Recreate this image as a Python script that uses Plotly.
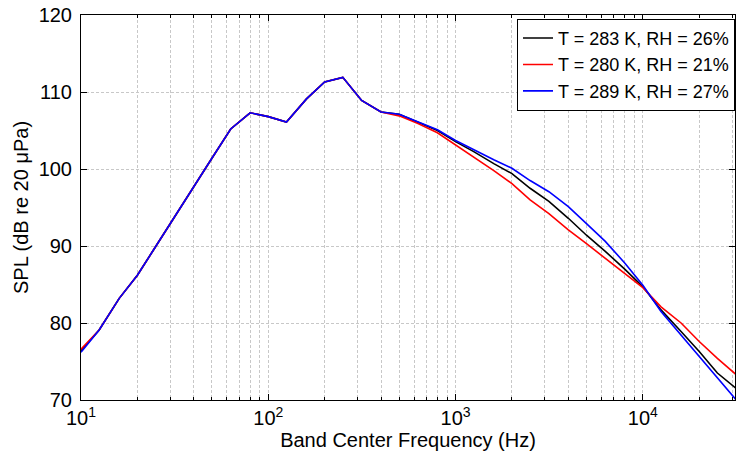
import plotly.graph_objects as go

freqs = [10, 12.5, 16, 20, 25, 31.5, 40, 50, 63, 80, 100, 125, 160, 200, 250, 315, 400, 500,
         630, 800, 1000, 1250, 1600, 2000, 2500, 3150, 4000, 5000, 6300, 8000, 10000,
         12500, 16000, 20000, 25000, 31500]

low_common = [79.1, 83.2, 86.2, 89.9, 93.8, 97.7, 101.4, 105.2, 107.3, 106.8, 106.1,
              109.1, 111.3, 111.9, 108.9, 107.4]

spl_283 = [76.4] + low_common + [107.1,
           106.1, 105.0, 103.55, 102.25, 100.7, 99.4, 97.5, 95.8, 93.6, 91.4, 89.3, 87.0, 84.7,
           81.7, 78.9, 76.3, 73.5, 71.5]
spl_280 = [76.6] + low_common + [106.9,
           105.9, 104.7, 103.1, 101.6, 99.8, 98.1, 96.0, 94.2, 92.1, 90.3, 88.4, 86.5, 84.6,
           82.1, 80.0, 77.6, 75.4, 73.3]
spl_289 = [76.2] + low_common + [107.1,
           106.15, 105.1, 103.7, 102.5, 101.2, 100.1, 98.5, 97.05, 95.1, 92.9, 90.6, 87.8, 84.9,
           81.5, 78.4, 75.6, 72.8, 70.0]

names = ["T = 283 K, RH = 26%", "T = 280 K, RH = 21%", "T = 289 K, RH = 27%"]
colors = ["#000000", "#ff0000", "#0000ff"]

major_x = [10, 100, 1000, 10000]
major_x_text = ["10<sup>1</sup>", "10<sup>2</sup>", "10<sup>3</sup>", "10<sup>4</sup>"]
minor_x = [m * d for d in [10, 100, 1000, 10000] for m in range(2, 10)]
y_ticks = [70, 80, 90, 100, 110, 120]

font_fam = "Liberation Sans, Arial, sans-serif"
grid_col = "#c8c8c8"
grid_dash = "3px,2px"

fig = go.Figure()
for ys, nm, c in zip([spl_283, spl_280, spl_289], names, colors):
    fig.add_trace(go.Scatter(x=freqs, y=ys, mode="lines", name=nm,
                             line=dict(color=c, width=1.6)))

fig.update_layout(
    width=736, height=454,
    margin=dict(l=81, r=1, t=15, b=54),
    paper_bgcolor="white", plot_bgcolor="white",
    font=dict(family=font_fam, size=20, color="black"),
    showlegend=True,
    legend=dict(x=1.0, xanchor="right", y=0.99, yanchor="top",
                bgcolor="white", bordercolor="black", borderwidth=1,
                font=dict(size=18), tracegroupgap=0, itemwidth=30),
)

fig.update_xaxes(
    type="log", range=[1, 4.492], automargin=False,
    tickmode="array", tickvals=major_x, ticktext=major_x_text,
    ticks="inside", ticklen=6, tickwidth=1, tickcolor="black",
    tickfont=dict(size=20),
    showline=True, linecolor="black", linewidth=1, mirror="ticks",
    showgrid=True, gridcolor=grid_col, griddash=grid_dash, gridwidth=1,
    minor=dict(tickmode="array", tickvals=minor_x, ticks="inside", ticklen=3,
               tickcolor="black", showgrid=True, gridcolor=grid_col, griddash=grid_dash),
    title=dict(text="Band Center Frequency (Hz)", font=dict(size=20), standoff=2),
    zeroline=False,
)
fig.update_yaxes(
    range=[70, 120], tickmode="array", tickvals=y_ticks, automargin=False,
    ticks="inside", ticklen=6, tickwidth=1, tickcolor="black",
    tickfont=dict(size=20),
    showline=True, linecolor="black", linewidth=1, mirror="ticks",
    showgrid=True, gridcolor=grid_col, griddash=grid_dash, gridwidth=1,
    title=dict(text="SPL (dB re 20 μPa)", font=dict(size=20), standoff=4),
    zeroline=False, ticklabelstandoff=4,
)

fig.write_html("out.html", config={"displayModeBar": False},
               post_script="document.body.style.margin='0';document.body.style.overflow='hidden';")
